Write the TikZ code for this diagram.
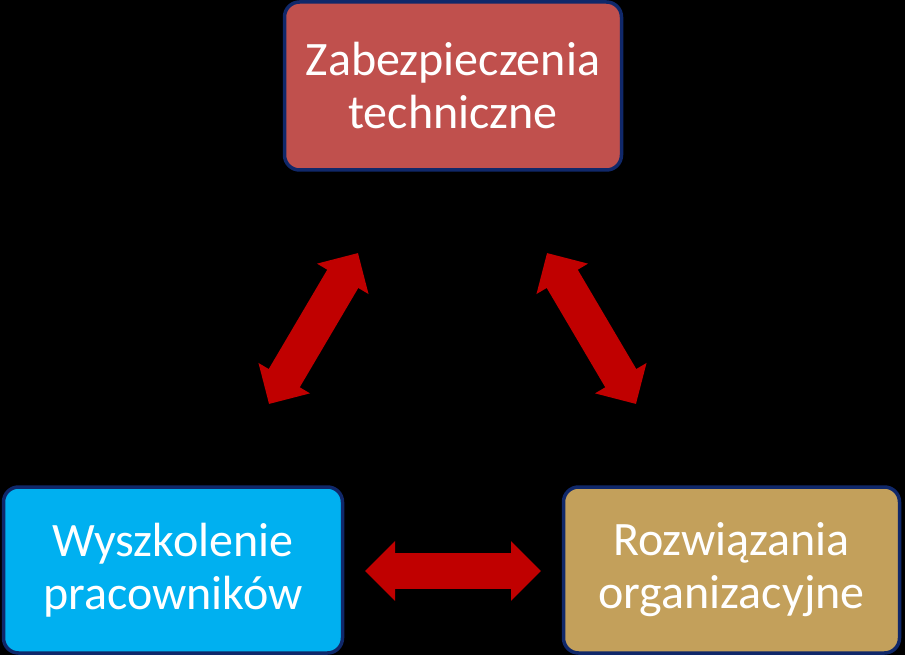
\documentclass[tikz,border=0pt]{standalone}
\usepackage{fontspec}
\setmainfont{Carlito}
\usetikzlibrary{arrows.meta}
\definecolor{boxred}{HTML}{C0504D}
\definecolor{boxblue}{HTML}{00B0F0}
\definecolor{boxgold}{HTML}{C3A05B}
\definecolor{navyline}{HTML}{10286A}
\definecolor{arrowred}{HTML}{C00000}
\tikzset{
  card/.style={draw=navyline, line width=3.5pt, rounded corners=15pt, inner sep=0pt,
    text=white, align=center, font=\fontsize{48}{53}\selectfont},
  twoway/.style={arrowred, line width=36pt,
    {Triangle[length=30pt,width=58pt]}-{Triangle[length=30pt,width=58pt]}}
}
\begin{document}
\begin{tikzpicture}[x=1pt,y=-1pt]
\fill[black] (0,0) rectangle (905,655);
\useasboundingbox (0,0) rectangle (905,655);
\node[card, fill=boxred, minimum width=337pt, minimum height=168pt] (tech) at (453,86) {Zabezpieczenia\\techniczne};
\node[card, fill=boxblue, minimum width=339pt, minimum height=166pt] (staff) at (173,570) {Wyszkolenie\\pracowników};
\node[card, fill=boxgold, minimum width=336pt, minimum height=166pt] (org) at (731.5,570) {Rozwiązania\\organizacyjne};
\coordinate (l1) at (269,404);
\coordinate (l2) at (358,253);
\coordinate (r1) at (547,253);
\coordinate (r2) at (636,404);
\coordinate (b1) at (365,571);
\coordinate (b2) at (541,571);
\draw[twoway] (l1) -- (l2);
\draw[twoway] (r1) -- (r2);
\draw[twoway] (b1) -- (b2);
\end{tikzpicture}
\end{document}
